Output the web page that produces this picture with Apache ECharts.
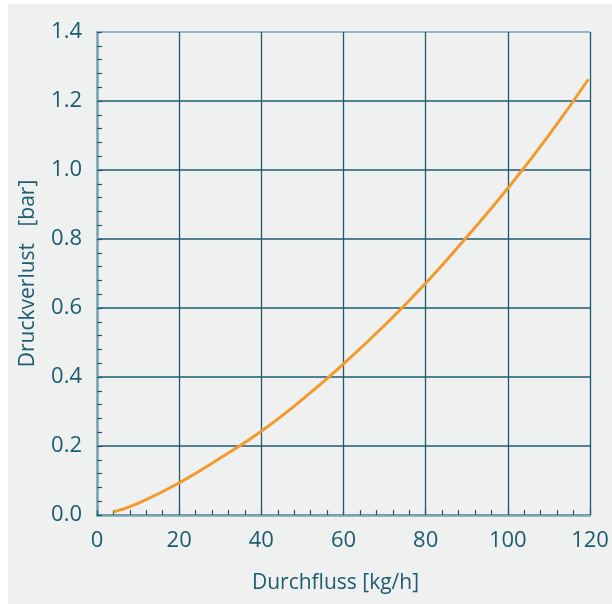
<!DOCTYPE html>
<html><head><meta charset="utf-8">
<script src="https://cdn.jsdelivr.net/npm/echarts@6/dist/echarts.min.js"></script>
<style>html,body{margin:0;padding:0;background:#fff;}#c{width:612px;height:604px;}</style>
</head><body><div id="c"></div>
<script>
const flow = [4, 10, 20, 30, 40, 50, 60, 70, 80, 90, 100, 110, 119.6];
const pressureLoss = [0.009, 0.034, 0.093, 0.165, 0.243, 0.335, 0.438, 0.55, 0.672, 0.806, 0.947, 1.101, 1.263];
const xTitle = 'Durchfluss [kg/h]';
const yTitle = 'Druckverlust   [bar]';

const teal = '#1d5b70';
const light = '#7ea3b1';
const chart = echarts.init(document.getElementById('c'), null, {renderer: 'canvas'});
chart.setOption({
  animation: false,
  backgroundColor: '#ffffff',
  graphic: [{type: 'rect', z: -10, shape: {x: 8, y: 4, width: 604, height: 600}, style: {fill: '#eff0f0'}}],
  grid: {left: 97, top: 32, right: 22, bottom: 89, containLabel: false},
  xAxis: {
    type: 'value', min: 0, max: 120, interval: 20,
    name: xTitle, nameLocation: 'middle', nameGap: 58,
    nameTextStyle: {color: teal, fontSize: 21, fontFamily: 'Open Sans', padding: [0, 16, 0, 0]},
    axisLine: {show: true, lineStyle: {color: light, width: 2.5}},
    axisTick: {show: true, inside: true, length: 5, lineStyle: {color: teal, width: 1.2}},
    minorTick: {show: true, splitNumber: 5, length: 5, lineStyle: {color: teal, width: 1.2}},
    axisLabel: {color: teal, fontSize: 22, margin: 15, fontFamily: 'Open Sans'},
    splitLine: {show: true, lineStyle: {color: teal, width: 1.3}}
  },
  yAxis: {
    type: 'value', min: 0, max: 1.4, interval: 0.2,
    name: yTitle, nameLocation: 'middle', nameGap: 58,
    nameTextStyle: {color: teal, fontSize: 21, fontFamily: 'Open Sans'},
    axisLine: {show: true, lineStyle: {color: light, width: 2.5}},
    axisTick: {show: true, inside: true, length: 5, lineStyle: {color: teal, width: 1.2}},
    minorTick: {show: true, splitNumber: 5, length: 5, lineStyle: {color: teal, width: 1.2}},
    axisLabel: {color: teal, fontSize: 22, margin: 15, fontFamily: 'Open Sans',
      formatter: v => v.toFixed(1)},
    splitLine: {show: true, lineStyle: {color: [teal, teal, teal, teal, teal, teal, teal, light], width: 1.5}}
  },
  series: [{
    type: 'line', smooth: true, showSymbol: false,
    data: flow.map((x, i) => [x, pressureLoss[i]]),
    lineStyle: {color: '#f39a2c', width: 3},
    z: 5
  }]
});
</script></body></html>
